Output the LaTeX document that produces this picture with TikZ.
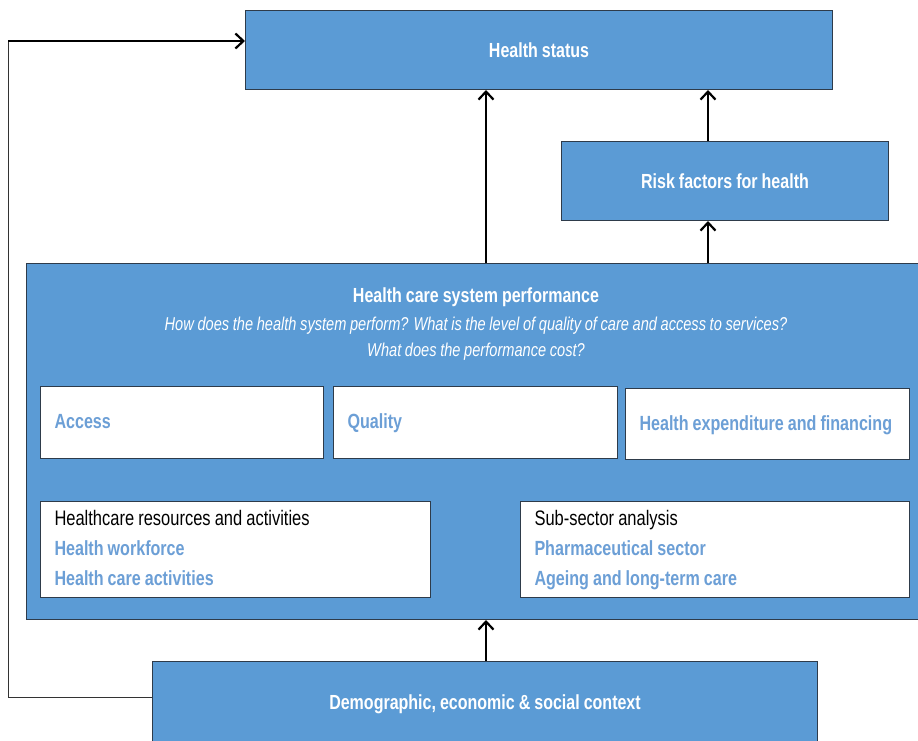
\documentclass[tikz,border=0pt]{standalone}
\usepackage{fontspec}
\setmainfont[FakeStretch=0.785,WordSpace=0.9]{Liberation Sans}
\usetikzlibrary{arrows.meta}
\definecolor{boxblue}{HTML}{5B9BD5}
\definecolor{textblue}{HTML}{6C9FD6}
\definecolor{edge}{HTML}{2E3B4A}
\begin{document}
\begin{tikzpicture}[x=1pt,y=-1pt,
  bluebox/.style={draw=edge,line width=1pt,fill=boxblue,text=white,font=\bfseries\fontsize{20.4}{22}\selectfont,inner sep=0pt},
  title/.style={text=white,font=\bfseries\fontsize{20.4}{22}\selectfont},
  whitebox/.style={draw=edge,line width=1pt,fill=white,inner xsep=14pt,inner ysep=0pt,align=flush left},
  flow/.style={line width=2.6pt,-{Straight Barb[length=8pt,width=15pt,line width=2.2pt]}},
  item/.style={text=textblue,font=\bfseries\fontsize{20.5}{30}\selectfont},
  listtext/.style={font=\fontsize{21}{30}\selectfont},
]
\useasboundingbox (0,0) rectangle (918,741);

% main boxes
\node[bluebox,minimum width=587,minimum height=79,anchor=north west] (hs) at (245,10) {Health status};
\node[bluebox,minimum width=327,minimum height=79,anchor=north west] (risk) at (561,141) {Risk factors for health};
\node[bluebox,minimum width=900,minimum height=356,anchor=north west] (perf) at (26,263) {};
\node[bluebox,minimum width=665,minimum height=90,anchor=north west] (demo) at (152,661) {};
\node[title] (demotext) at (485,704) {Demographic, economic \& social context};

% header of the performance box
\node[title] (perftitle) at (476,297) {Health care system performance};
\node[text=white,font=\itshape\fontsize{18.6}{26}\selectfont,align=center] (perfq) at (476,339)
  {How does the health system perform? What is the level of quality of care and access to services?\\What does the performance cost?};

% dimension boxes
\node[whitebox,minimum width=283,minimum height=72,anchor=north west,text width=255,item] (access) at (40,386) {Access\strut};
\node[whitebox,minimum width=284,minimum height=72,anchor=north west,text width=256,item] (quality) at (333,386) {Quality\strut};
\node[whitebox,minimum width=284,minimum height=71,anchor=north west,text width=256,item] (expend) at (625,388) {Health expenditure and financing\strut};

% resource boxes
\node[whitebox,minimum width=390,minimum height=96,anchor=north west,text width=362,listtext] (res) at (40,501)
  {\strut Healthcare resources and activities\\{\color{textblue}\bfseries\fontsize{20.5}{30}\selectfont Health workforce}\\{\color{textblue}\bfseries\fontsize{20.5}{30}\selectfont Health care activities\strut}};
\node[whitebox,minimum width=389,minimum height=96,anchor=north west,text width=361,listtext] (sub) at (520,501)
  {\strut Sub-sector analysis\\{\color{textblue}\bfseries\fontsize{20.5}{30}\selectfont Pharmaceutical sector}\\{\color{textblue}\bfseries\fontsize{20.5}{30}\selectfont Ageing and long-term care\strut}};

% connectors
\coordinate (riskin) at (perf.north -| 708,0);
\draw[flow] (perf.north -| 486,0) -- (hs.south -| 486,0);
\draw[flow] (riskin) -- (risk.south -| riskin);
\draw[flow] (risk.north -| riskin) -- (hs.south -| riskin);
\draw[flow] (demo.north -| 486,0) -- (perf.south -| 486,0);

% feedback from context to health status
\coordinate (fbtop) at (8,41);
\draw[line width=1pt,black!80] (demo.west |- 0,697) -- (8,697) -- (fbtop);
\draw[flow] (fbtop) -- (hs.west |- fbtop);
\end{tikzpicture}
\end{document}
